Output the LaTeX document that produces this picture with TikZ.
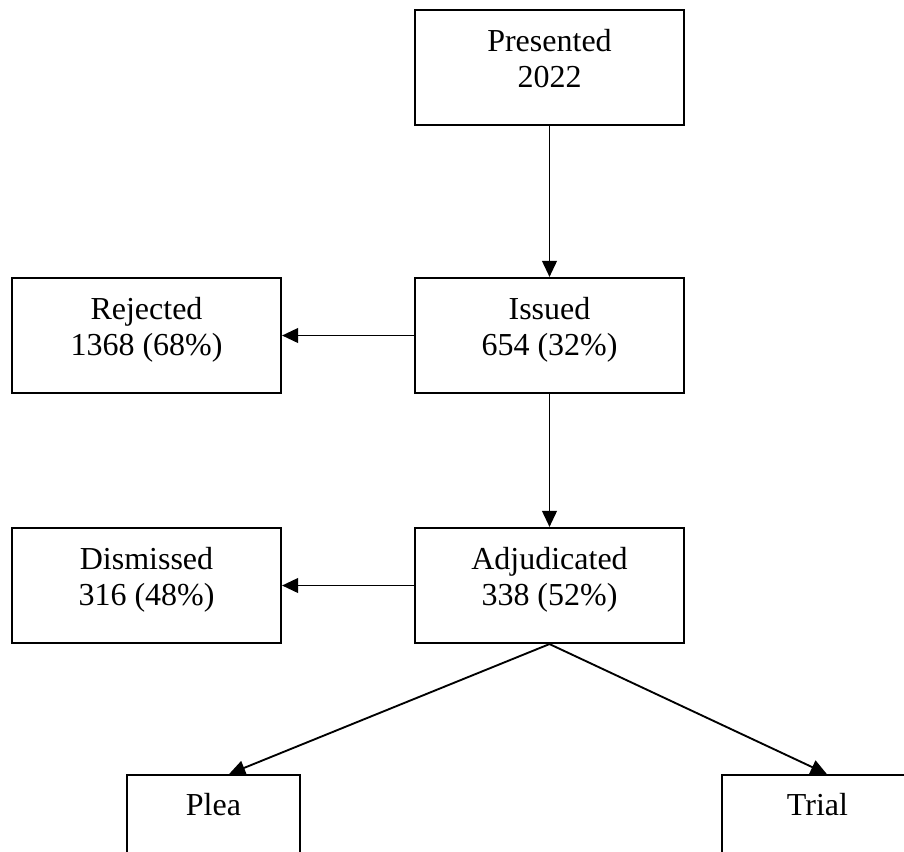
\documentclass[tikz,border=0pt]{standalone}
\usepackage{fontspec}
\setmainfont{Liberation Serif}
\usetikzlibrary{arrows.meta}

\begin{document}
\begin{tikzpicture}[x=0.75pt,y=0.75pt,yscale=-1,xscale=1,
  box/.style={draw, line width=1.6pt, inner sep=0pt, minimum width=201.75pt, align=center,
    text height=57.75pt, text depth=28.5pt, font=\fontsize{24pt}{27pt}\selectfont},
  leaf/.style={box, text height=30pt, text depth=56.25pt},
  flow/.style={-{Triangle[length=12pt,width=11pt]}, line width=1.4pt}]
\useasboundingbox (0,0) rectangle (904,851);
% Boxes
\node [box] (pres) at (549.5,67.5) {Presented\\2022};
\node [box] (iss) at (549.5,335.5) {Issued\\654 (32\%)};
\node [box] (rej) at (146.5,335.5) {Rejected\\1368 (68\%)};
\node [box] (adj) at (549.5,585.5) {Adjudicated\\338 (52\%)};
\node [box] (dis) at (146.5,585.5) {Dismissed\\316 (48\%)};
\node [leaf, minimum width=129.75pt] (plea) at (213.5,832.5) {Plea};
\node [leaf, minimum width=143.25pt] (trial) at (817.5,832.5) {Trial};
% Arrows
\draw [flow] (pres) -- (iss);
\draw [flow] (iss) -- (rej);
\draw [flow] (iss) -- (adj);
\draw [flow] (adj) -- (dis);
\draw [flow] (adj.south) -- (plea.75);
\draw [flow] (adj.south) -- (trial.81);
\end{tikzpicture}
\end{document}
